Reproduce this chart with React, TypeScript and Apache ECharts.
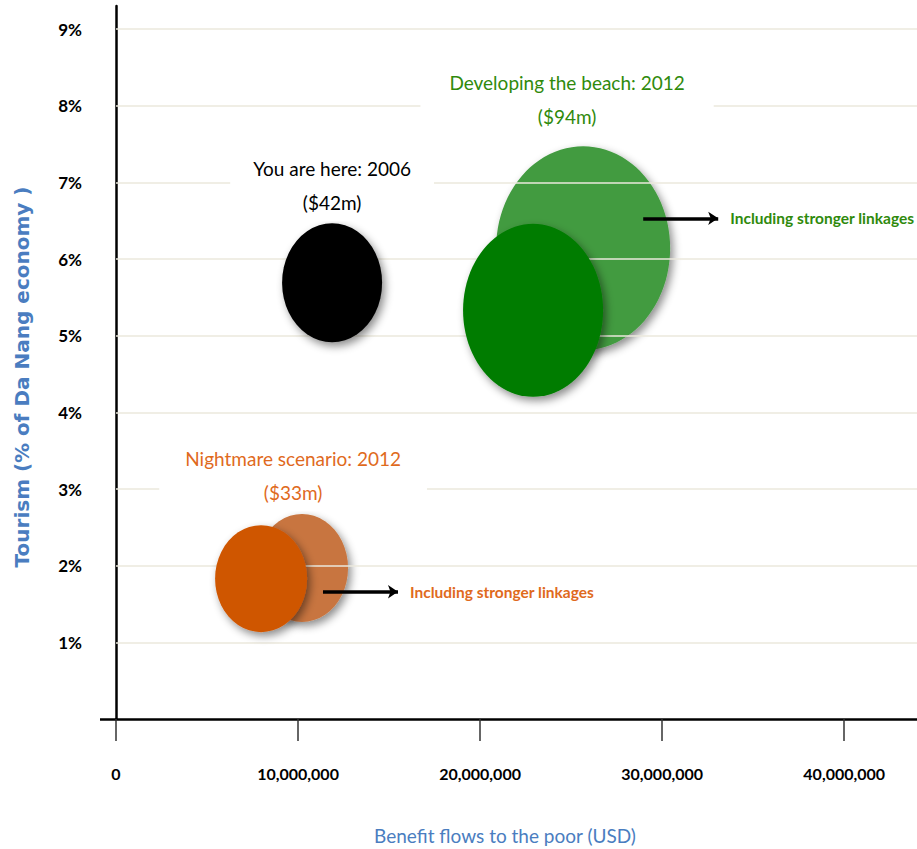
import React, { useEffect, useRef } from "react";
import * as echarts from "echarts";

// ---- Data ----
const xTickValues = [0, 10000000, 20000000, 30000000, 40000000];
const yTickValues = [1, 2, 3, 4, 5, 6, 7, 8, 9];

const scenarioNames = ["You are here: 2006", "Developing the beach: 2012", "Nightmare scenario: 2012"];
const scenarioTotals = ["($42m)", "($94m)", "($33m)"];

// base scenario bubbles (dark)
const baseBenefit = [11870000, 22910000, 7970000];
const baseTourism = [5.69, 5.33, 1.83];
const baseBubbleW = [100, 140, 92];
const baseBubbleH = [119, 173, 107];

// "including stronger linkages" bubbles (light) for the two 2012 scenarios
const linkScenarioIdx = [1, 2];
const linkBenefit = [25660000, 10220000];
const linkTourism = [6.14, 1.97];
const linkBubbleW = [174, 92];
const linkBubbleH = [204, 108];

// arrows pointing to "Including stronger linkages"
const linkageText = "Including stronger linkages";
const arrowFromBenefit = [28960000, 11370000];
const arrowToBenefit = [33080000, 15490000];
const arrowTourism = [6.53, 1.66];

const xAxisTitle = "Benefit flows to the poor (USD)";
const yAxisTitle = "Tourism (% of Da Nang economy )";

// ---- Styles ----
const FONT = "Lato, 'Open Sans', sans-serif";
const baseColors = ["#000000", "#017c01", "#cf5600"];
const linkColors = ["#429b40", "#c8753f"];
const textColors = ["#000000", "#2f8a0c", "#df6a1d"];
const labelDistance = [2, 88, 14];
const labelOffsetX = [0, 34, 32];
const labelPadX = [23, 29, 26];

const shadow = {
  shadowBlur: 8,
  shadowColor: "rgba(0,0,0,0.45)",
  shadowOffsetX: 3,
  shadowOffsetY: 4,
};

function buildOption() {
  const baseData = baseBenefit.map((x, i) => ({
    value: [x, baseTourism[i]],
    symbolSize: [baseBubbleW[i], baseBubbleH[i]],
    itemStyle: { color: baseColors[i], opacity: 1, ...shadow },
    label: {
      show: true,
      position: "top",
      distance: labelDistance[i],
      offset: [labelOffsetX[i], 0],
      formatter: scenarioNames[i] + "\n" + scenarioTotals[i],
      color: textColors[i],
      fontFamily: FONT,
      fontSize: 19,
      lineHeight: 34,
      align: "center",
      backgroundColor: "#ffffff",
      padding: [2, labelPadX[i]],
    },
  }));

  const linkData = linkBenefit.map((x, i) => ({
    value: [x, linkTourism[i]],
    symbolSize: [linkBubbleW[i], linkBubbleH[i]],
    itemStyle: { color: linkColors[i], opacity: 1, ...shadow },
  }));

  const arrowData = arrowFromBenefit.map((x0, i) => {
    const lbl = {
      show: true,
      position: "end",
      distance: 12,
      formatter: linkageText,
      color: textColors[linkScenarioIdx[i]],
      fontFamily: FONT,
      fontWeight: "bold",
      fontSize: 15.5,
    };
    return [
      { coord: [x0, arrowTourism[i]], label: lbl },
      { coord: [arrowToBenefit[i], arrowTourism[i]], label: lbl },
    ];
  });

  return {
    animation: false,
    backgroundColor: "#ffffff",
    grid: { left: 116, right: 0, top: 6, bottom: 130, containLabel: false },
    xAxis: {
      type: "value",
      min: 0,
      max: 44000000,
      interval: 10000000,
      axisLine: { show: true, onZero: false, lineStyle: { color: "#000", width: 2.5 } },
      axisTick: {
        show: true,
        inside: false,
        length: 22,
        customValues: xTickValues,
        lineStyle: { color: "#333", width: 1.5 },
      },
      axisLabel: {
        customValues: xTickValues,
        formatter: (v: number) => v.toLocaleString("en-US"),
        fontFamily: FONT,
        fontWeight: "bold",
        fontSize: 16,
        color: "#000",
        margin: 46,
      },
      splitLine: { show: false },
    },
    yAxis: {
      type: "value",
      min: 0,
      max: 9.3,
      interval: 1,
      axisLine: { show: true, onZero: false, lineStyle: { color: "#000", width: 2.5 } },
      axisTick: {
        show: true,
        inside: false,
        length: 16,
        customValues: [0],
        lineStyle: { color: "#000", width: 2.5 },
      },
      axisLabel: {
        customValues: yTickValues,
        formatter: (v: number) => v + "%",
        fontFamily: FONT,
        fontWeight: "bold",
        fontSize: 17,
        color: "#000",
        margin: 34,
      },
      splitLine: { show: false },
    },
    graphic: [
      {
        type: "text",
        x: 505,
        y: 835,
        style: {
          text: xAxisTitle,
          fill: "#4a7dc0",
          font: "19px " + FONT,
          align: "center",
          verticalAlign: "middle",
        },
      },
      {
        type: "text",
        x: 22,
        y: 377,
        rotation: Math.PI / 2,
        style: {
          text: yAxisTitle,
          fill: "#4a7dc0",
          font: "bold 20px 'DejaVu Sans', sans-serif",
          align: "center",
          verticalAlign: "middle",
        },
      },
    ],
    series: [
      {
        name: "Including stronger linkages",
        type: "scatter",
        z: 1,
        symbol: "circle",
        data: linkData,
        emphasis: { disabled: true },
        markLine: {
          z: 4,
          silent: true,
          symbol: ["none", "arrow"],
          symbolSize: 10,
          lineStyle: {
            type: "solid",
            color: "#000",
            width: 3.5,
            opacity: 1,
          },
          itemStyle: { color: "#000" },
          emphasis: { disabled: true },
          data: arrowData,
        },
      },
      {
        name: "gridlines",
        type: "scatter",
        z: 2,
        data: [],
        markLine: {
          z: 2,
          silent: true,
          symbol: ["none", "none"],
          label: { show: false },
          lineStyle: { type: "solid", color: "#ebe8dd", width: 1.5, opacity: 1 },
          emphasis: { disabled: true },
          data: yTickValues.map((v) => ({ yAxis: v })),
        },
      },
      {
        name: "Scenarios",
        type: "scatter",
        z: 3,
        symbol: "circle",
        data: baseData,
        emphasis: { disabled: true },
      },
    ],
  };
}

export default function App() {
  const ref = useRef<HTMLDivElement>(null);
  useEffect(() => {
    const chart = echarts.init(ref.current as HTMLDivElement, null, { renderer: "svg" });
    chart.setOption(buildOption() as any);
    return () => chart.dispose();
  }, []);
  return (
    <div
      ref={ref}
      style={{ position: "fixed", left: 0, top: 0, width: 917, height: 849, background: "#fff" }}
    />
  );
}
